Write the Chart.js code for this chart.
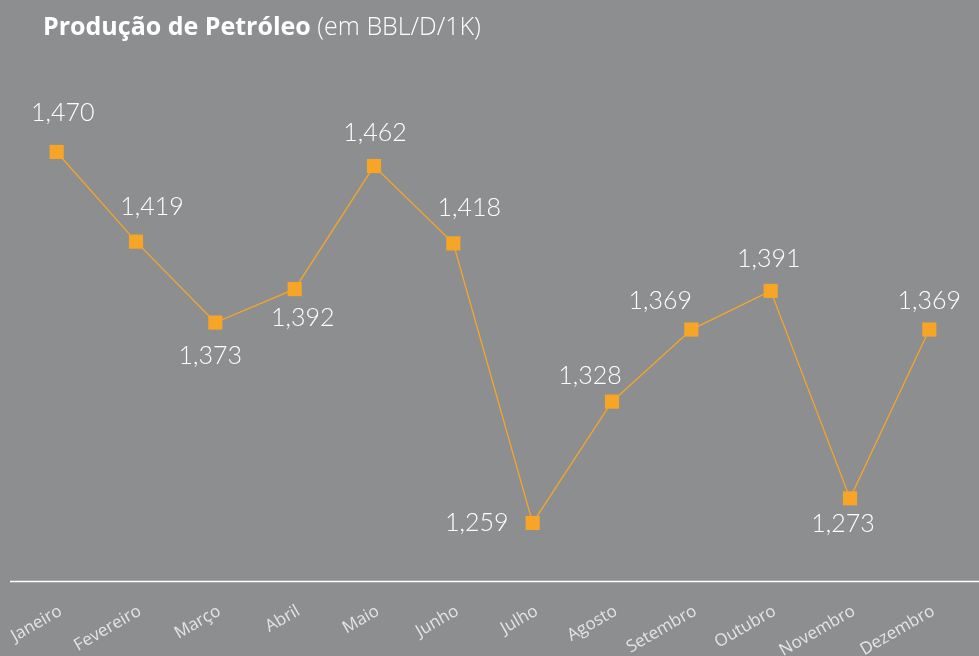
<!DOCTYPE html>
<html>
<head>
<meta charset="utf-8">
<script src="https://cdn.jsdelivr.net/npm/chart.js@4.4.1/dist/chart.umd.min.js"></script>
<style>
    html, body { margin: 0; padding: 0; background: #8d8e90; }
    #wrap { position: relative; width: 979px; height: 656px; }
</style>
</head>
<body>
<div id="wrap"><canvas id="oil-chart" width="979" height="656"></canvas></div>
<script>
var months = ['Janeiro', 'Fevereiro', 'Março', 'Abril', 'Maio', 'Junho',
    'Julho', 'Agosto', 'Setembro', 'Outubro', 'Novembro', 'Dezembro'];
var production = [1470, 1419, 1373, 1392, 1462, 1418, 1259, 1328, 1369, 1391, 1273, 1369];

// where each value label sits relative to its point (dx, dy)
var labelShift = [[6, -39], [16, -35], [-5, 33], [8, 29], [1, -33], [16, -35],
    [-56, 0], [-22, -26], [-31, -29], [-2, -32], [-7, 26], [0, -29]];

var orange = '#f7a526';

// titulo com parte em negrito
var titlePlugin = {
    id: 'titleText',
    afterDraw: function (chart) {
        var ctx = chart.ctx;
        ctx.save();
        ctx.fillStyle = '#ffffff';
        ctx.textBaseline = 'alphabetic';
        ctx.textAlign = 'left';
        ctx.font = 'bold 25px "Open Sans"';
        var part1 = 'Produção de Petróleo';
        ctx.fillText(part1, 43, 35);
        var w = ctx.measureText(part1).width;
        ctx.font = '300 25px "Open Sans"';
        ctx.fillText(' (em BBL/D/1K)', 43 + w, 35);
        ctx.restore();
    }
};

// linha base do eixo x
var baseLinePlugin = {
    id: 'baseLine',
    afterDraw: function (chart) {
        var ctx = chart.ctx;
        var y = chart.chartArea.bottom + 0.5;
        ctx.save();
        ctx.strokeStyle = '#ffffff';
        ctx.lineWidth = 1.5;
        ctx.beginPath();
        ctx.moveTo(10, y);
        ctx.lineTo(chart.width, y);
        ctx.stroke();
        ctx.restore();
    }
};

// rotulos dos valores
var valueLabelPlugin = {
    id: 'valueLabels',
    afterDatasetsDraw: function (chart) {
        var ctx = chart.ctx;
        var meta = chart.getDatasetMeta(0);
        ctx.save();
        ctx.fillStyle = '#ffffff';
        ctx.font = '300 25px Lato';
        ctx.textAlign = 'center';
        ctx.textBaseline = 'middle';
        meta.data.forEach(function (pt, i) {
            var txt = production[i].toLocaleString('en-US');
            ctx.fillText(txt, pt.x + labelShift[i][0], pt.y + labelShift[i][1]);
        });
        ctx.restore();
    }
};

var chart = new Chart(
    document.getElementById('oil-chart'),
    {
        type: 'line',
        data: {
            labels: months,
            datasets: [
                {
                    label: 'Produção',
                    data: production,
                    borderColor: orange,
                    backgroundColor: orange,
                    borderWidth: 1.3,
                    tension: 0,
                    pointStyle: 'rect',
                    pointRadius: 10,
                    pointBorderWidth: 0,
                    pointBackgroundColor: orange
                }]
        },
        options: {
            responsive: false,
            animation: false,
            layout: {
                padding: { top: 60, left: 17, right: 6, bottom: 0 }
            },
            plugins: {
                legend: { display: false },
                tooltip: { enabled: false },
                title: { display: false }
            },
            scales: {
                x: {
                    offset: true,
                    grid: { display: false, drawTicks: false },
                    border: { display: false },
                    ticks: {
                        color: '#e4e4e4',
                        font: { family: '"Open Sans"', size: 17 },
                        minRotation: 30,
                        maxRotation: 30,
                        padding: 20,
                        labelOffset: 4,
                        autoSkip: false
                    },
                    afterFit: function (scale) {
                        scale.height = 75;
                        scale.paddingLeft = 0;
                        scale.paddingRight = 0;
                    }
                },
                y: {
                    display: false,
                    min: 1226,
                    max: 1522.3
                }
            }
        },
        plugins: [titlePlugin, baseLinePlugin, valueLabelPlugin]
    }
);
</script>
</body>
</html>
